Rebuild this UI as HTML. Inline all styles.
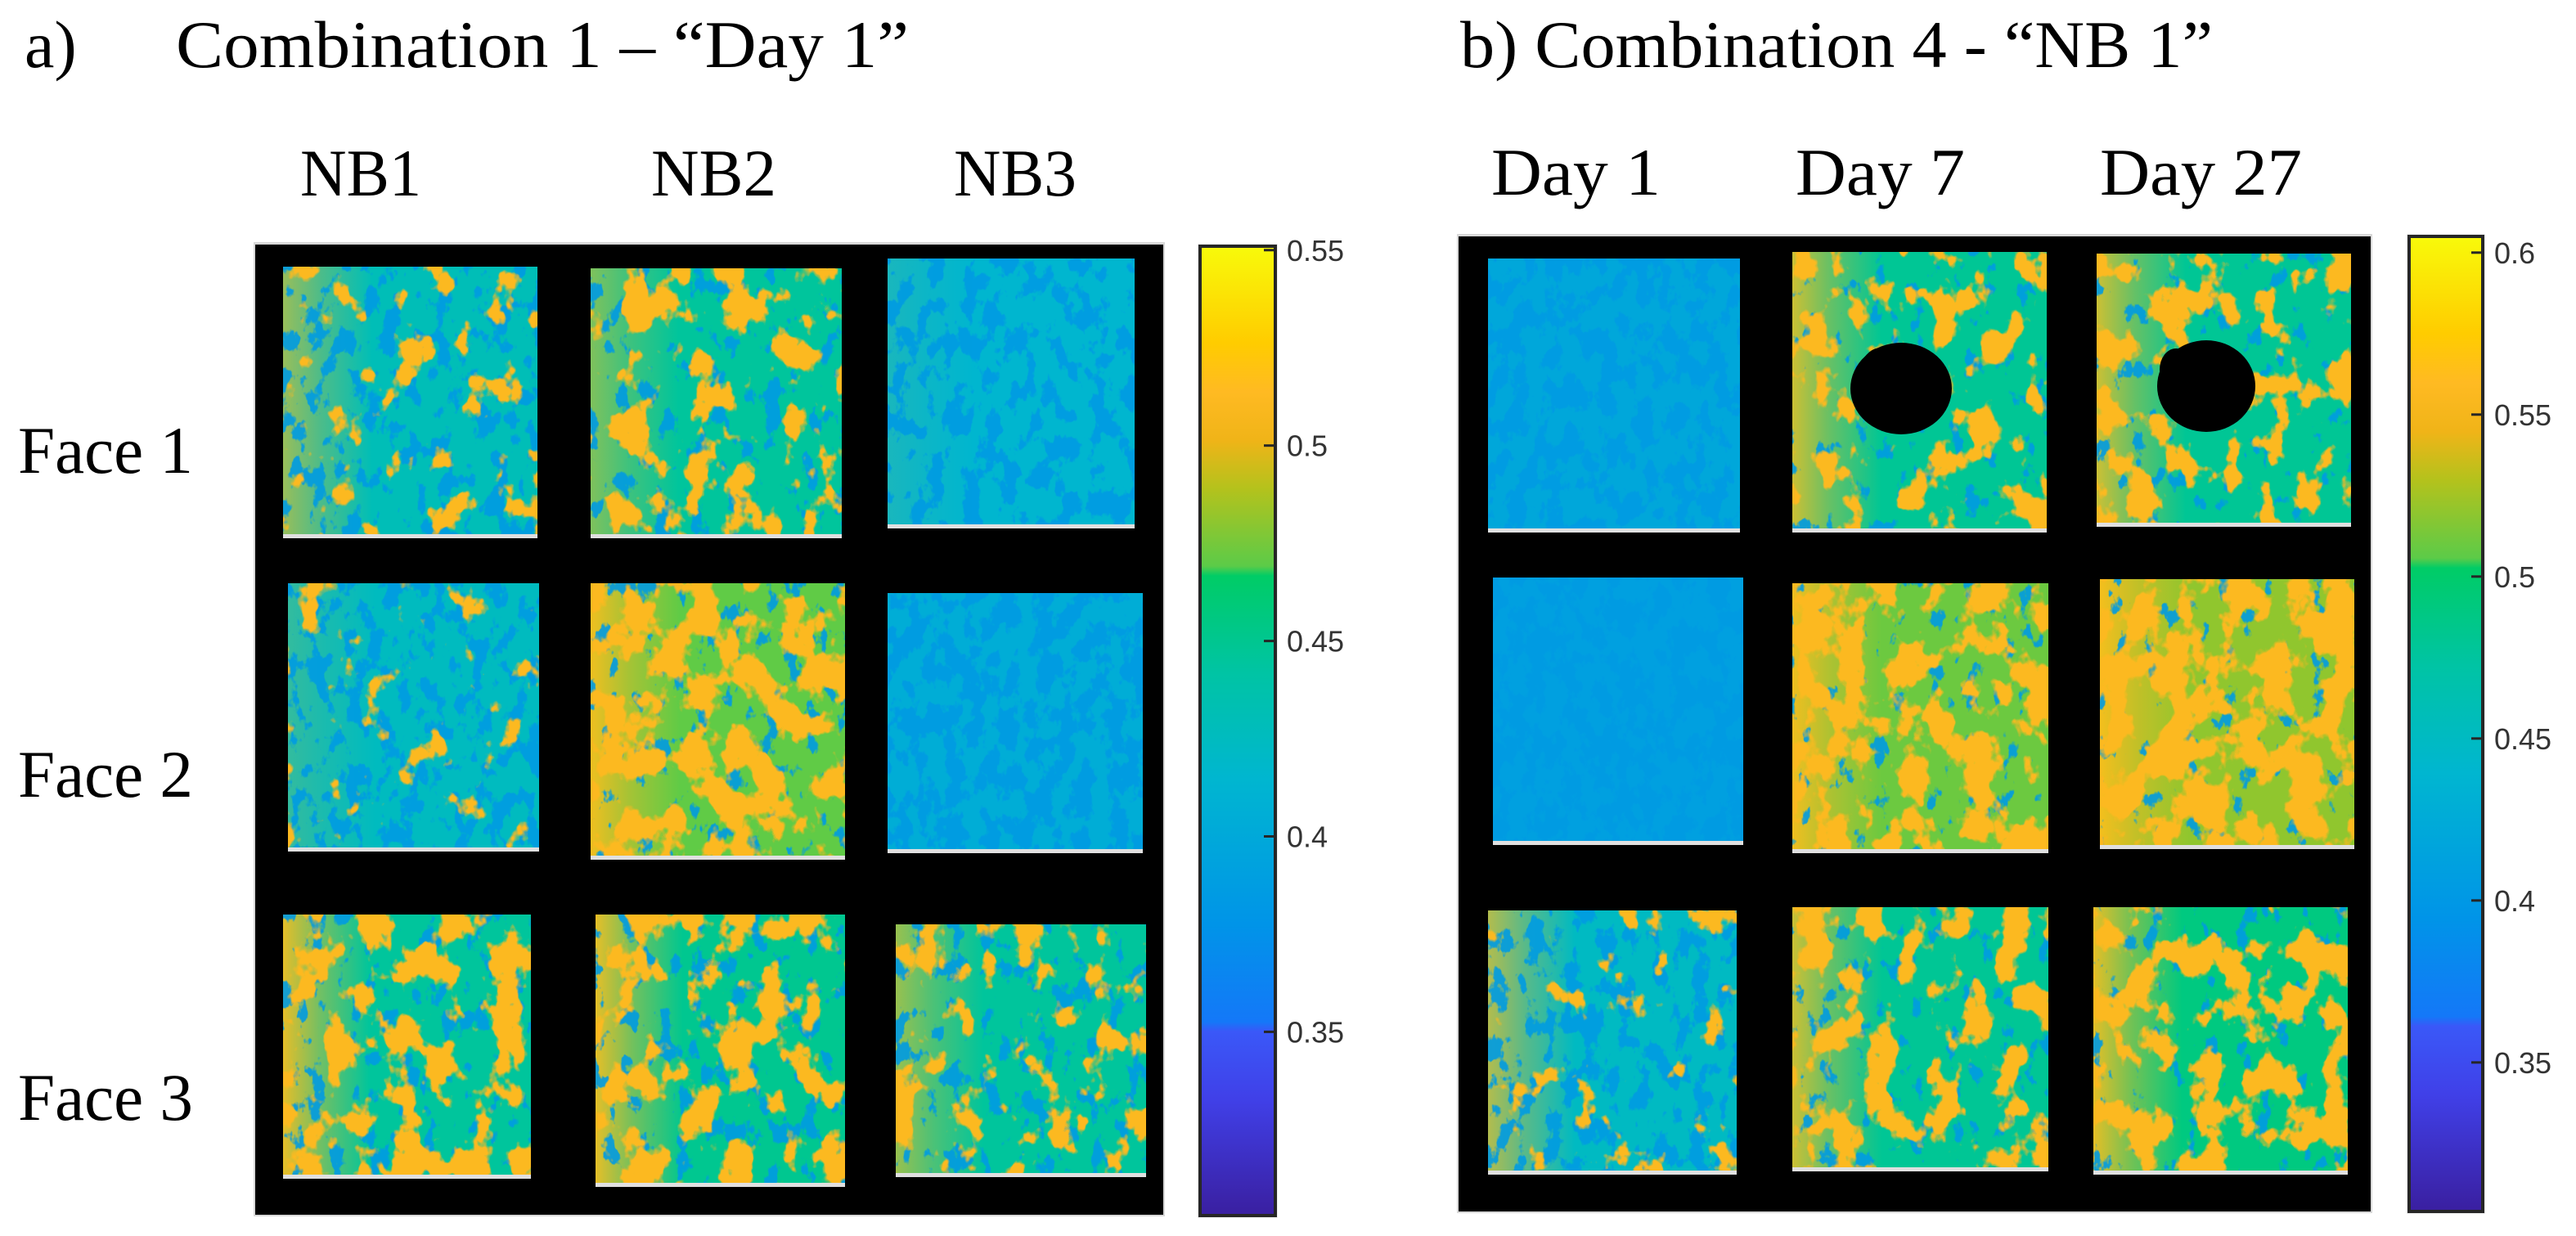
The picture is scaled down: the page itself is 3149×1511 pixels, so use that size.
<!DOCTYPE html>
<html><head><meta charset="utf-8">
<style>
html,body{margin:0;padding:0;background:#fff;}
svg{display:block;}
.ser{font-family:"Liberation Serif",serif;fill:#000;}
.tick{font-family:"Liberation Sans Narrow","Liberation Sans",sans-serif;fill:#333;font-size:36px;}
</style></head>
<body>
<svg id="fig" xmlns="http://www.w3.org/2000/svg" width="3149" height="1511" viewBox="0 0 3149 1511">
<defs id="defs"></defs>
<g id="texts">
<text class="ser" x="30" y="82" font-size="82">a)</text>
<text class="ser" x="215" y="82" font-size="82" textLength="896" lengthAdjust="spacingAndGlyphs">Combination 1 – “Day 1”</text>
<text class="ser" x="1785" y="82" font-size="82" textLength="920" lengthAdjust="spacingAndGlyphs">b) Combination 4 - “NB 1”</text>
<text class="ser" x="367" y="239" font-size="82" textLength="148" lengthAdjust="spacingAndGlyphs">NB1</text>
<text class="ser" x="796" y="239" font-size="82" textLength="153" lengthAdjust="spacingAndGlyphs">NB2</text>
<text class="ser" x="1166" y="239" font-size="82" textLength="150" lengthAdjust="spacingAndGlyphs">NB3</text>
<text class="ser" x="1823" y="238" font-size="82" textLength="207" lengthAdjust="spacingAndGlyphs">Day 1</text>
<text class="ser" x="2195" y="238" font-size="82" textLength="207" lengthAdjust="spacingAndGlyphs">Day 7</text>
<text class="ser" x="2567" y="238" font-size="82" textLength="247" lengthAdjust="spacingAndGlyphs">Day 27</text>
<text class="ser" x="22" y="578" font-size="82" textLength="214" lengthAdjust="spacingAndGlyphs">Face 1</text>
<text class="ser" x="22" y="974" font-size="82" textLength="214" lengthAdjust="spacingAndGlyphs">Face 2</text>
<text class="ser" x="22" y="1369" font-size="82" textLength="214" lengthAdjust="spacingAndGlyphs">Face 3</text>
</g>
<g id="panels"></g>
</svg>
<script>
// colour scale ranges
const rangeA = [0.303, 0.551];
const rangeB = [0.304, 0.605];
const ticksA = [0.35, 0.4, 0.45, 0.5, 0.55];
const tickLabelsA = ["0.35", "0.4", "0.45", "0.5", "0.55"];
const ticksB = [0.35, 0.4, 0.45, 0.5, 0.55, 0.6];
const tickLabelsB = ["0.35", "0.4", "0.45", "0.5", "0.55", "0.6"];
// per-tile values (rows = faces / row, cols)
const baseA = [[0.43,0.445,0.415],[0.425,0.47,0.405],[0.445,0.45,0.445]];
const orangeA = [[0.12,0.36,0.0],[0.08,0.58,0.0],[0.45,0.45,0.28]];
const blueA = [[0.35,0.22,0.45],[0.42,0.15,0.60],[0.20,0.22,0.25]];
const edgeA = [[0.6,0.5,0.1],[0.2,0.9,0.0],[0.9,0.9,0.6]];
const baseB = [[0.42,0.48,0.48],[0.41,0.51,0.52],[0.45,0.48,0.49]];
const orangeB = [[0.0,0.35,0.33],[0.0,0.55,0.62],[0.02,0.40,0.48]];
const blueB = [[0.55,0.05,0.05],[0.60,0.03,0.03],[0.40,0.08,0.06]];
const edgeB = [[0.0,0.8,0.8],[0.0,0.9,0.9],[0.7,0.8,0.9]];
const cmap = [[0,"#3a1fa0"],[0.12,"#4040e8"],[0.19,"#3a58f8"],[0.2,"#1478f8"],[0.3,"#0094e8"],[0.45,"#00b6d0"],[0.56,"#00c4a4"],[0.66,"#00cc66"],[0.67,"#5ccb48"],[0.75,"#b4c21c"],[0.8,"#f0b418"],[0.85,"#ffba22"],[0.9,"#ffcc00"],[1,"#f8fa0a"]];

const NS="http://www.w3.org/2000/svg";
const defs=document.getElementById('defs');
const root=document.getElementById('panels');
function mk(tag,attrs,parent){const e=document.createElementNS(NS,tag);for(const k in attrs)e.setAttribute(k,attrs[k]);(parent||root).appendChild(e);return e;}
function hex(c){return [parseInt(c.substr(1,2),16),parseInt(c.substr(3,2),16),parseInt(c.substr(5,2),16)];}
function color(t){t=Math.max(0,Math.min(1,t));for(let i=1;i<cmap.length;i++){if(t<=cmap[i][0]){const a=cmap[i-1],b=cmap[i];const f=(t-a[0])/(b[0]-a[0]||1);const ca=hex(a[1]),cb=hex(b[1]);return 'rgb('+ca.map((v,j)=>Math.round(v+(cb[j]-v)*f)).join(',')+')';}}return cmap[cmap.length-1][1];}
function norm(v,r){return (v-r[0])/(r[1]-r[0]);}

const lg=mk('linearGradient',{id:'cmapGrad',x1:'0',y1:'1',x2:'0',y2:'0'},defs);
cmap.forEach(s=>mk('stop',{offset:s[0],'stop-color':s[1]},lg));

let fid=0;
function mottle(thr,seed,freq){
  const id='m'+(fid++);
  const f=mk('filter',{id:id,x:'0',y:'0',width:'1',height:'1','color-interpolation-filters':'sRGB'},defs);
  mk('feTurbulence',{type:'fractalNoise',baseFrequency:freq,numOctaves:'4',seed:seed,result:'n'},f);
  mk('feColorMatrix',{in:'n',type:'matrix',values:'0 0 0 0 0  0 0 0 0 0  0 0 0 0 0  14 0 0 0 '+(-14*thr),result:'mask'},f);
  mk('feComposite',{in:'SourceGraphic',in2:'mask',operator:'in'},f);
  return id;
}
function cover2thr(c){return c<=0?2:0.5+(0.5-c)*0.30;}

const tilesA=[[[346,326,311,332],[722,328,307,330],[1085,316,302,330]],
              [[352,713,307,328],[722,713,311,338],[1085,725,312,318]],
              [[346,1118,303,323],[728,1118,305,333],[1095,1130,306,309]]];
const tilesB=[[[1819,316,308,335],[2191,308,311,343],[2563,310,311,334]],
              [[1825,706,306,327],[2191,713,313,330],[2567,708,311,330]],
              [[1819,1113,304,323],[2191,1109,313,323],[2559,1109,311,327]]];

function panel(name,box,tiles,base,orange,blue,edge,range,cbar,ticks,labels,holes){
  const g=mk('g',{});
  
  
  const bg=mk('rect',{x:box[0]-2,y:box[1]-3,width:box[2]+4,height:box[3]+5,fill:'#d8d8d8'},g);
  
  
  const bk=mk('rect',{x:box[0],y:box[1],width:box[2],height:box[3],fill:'#000'},g);
  
  
  let s=1;
  for(let r=0;r<3;r++)for(let c=0;c<3;c++){
    const [x,y,w,h]=tiles[r][c];
    const tg=mk('g',{},g);
    
    
    const cid='clip'+name+r+c;
    const cp=mk('clipPath',{id:cid},defs);
    mk('rect',{x:x,y:y,width:w,height:h},cp);
    tg.setAttribute('clip-path','url(#'+cid+')');
    const tb=norm(base[r][c],range);
    mk('rect',{x:x,y:y,width:w,height:h,fill:color(tb)},tg);
    const eg='eg'+name+r+c;
    const lgr=mk('linearGradient',{id:eg,x1:'0',y1:'0',x2:'1',y2:'0'},defs);
    mk('stop',{offset:0,'stop-color':color(0.86),'stop-opacity':edge[r][c]},lgr);
    mk('stop',{offset:0.15,'stop-color':color(0.84),'stop-opacity':edge[r][c]*0.5},lgr);
    mk('stop',{offset:0.35,'stop-color':color(0.84),'stop-opacity':0},lgr);
    mk('rect',{x:x,y:y,width:w,height:h,fill:'url(#'+eg+')'},tg);
    const mb=mottle(cover2thr(blue[r][c]),s++,'0.045 0.03');
    mk('rect',{x:x,y:y,width:w,height:h,fill:color(0.33),filter:'url(#'+mb+')',opacity:0.9},tg);
    const mo=mottle(cover2thr(orange[r][c]),s+40,'0.025 0.02');
    s++;
    mk('rect',{x:x,y:y,width:w,height:h,fill:color(0.84),filter:'url(#'+mo+')'},tg);
    mk('rect',{x:x,y:y+h-5,width:w,height:5,fill:'#e0e0e0'},tg);
  }
  (holes||[]).forEach(hh=>{
    const e=mk('ellipse',{cx:hh[0],cy:hh[1],rx:hh[2],ry:hh[3],fill:'#000'},g);
    
    
  });
  const [cx,cy,cw,ch]=cbar;
  const cb=mk('g',{},g);
  
  
  mk('rect',{x:cx-3,y:cy-3,width:cw+6,height:ch+6,fill:'#eee'},cb);
  mk('rect',{x:cx,y:cy,width:cw,height:ch,fill:'url(#cmapGrad)',stroke:'#262626','stroke-width':4},cb);
  const yOf=v=>cy+ch-(v-range[0])/(range[1]-range[0])*ch;
  ticks.forEach((v,i)=>{
    const yy=yOf(v);
    mk('line',{x1:cx+cw-14,x2:cx+cw,y1:yy,y2:yy,stroke:'#262626','stroke-width':3},cb);
    const t=mk('text',{x:cx+cw+14,y:yy+13,class:'tick'},cb);
    
    
    t.textContent=labels[i];
  });
}
panel('panel-a',[312,299,1110,1186],tilesA,baseA,orangeA,blueA,edgeA,rangeA,[1467,301,92,1185],ticksA,tickLabelsA,[]);
panel('panel-b',[1783,289,1115,1192],tilesB,baseB,orangeB,blueB,edgeB,rangeB,[2945,289,90,1192],ticksB,tickLabelsB,[[2324,475,62,56],[2300,455,26,30],[2697,472,60,56],[2660,452,20,26]]);
</script>
</body></html>
